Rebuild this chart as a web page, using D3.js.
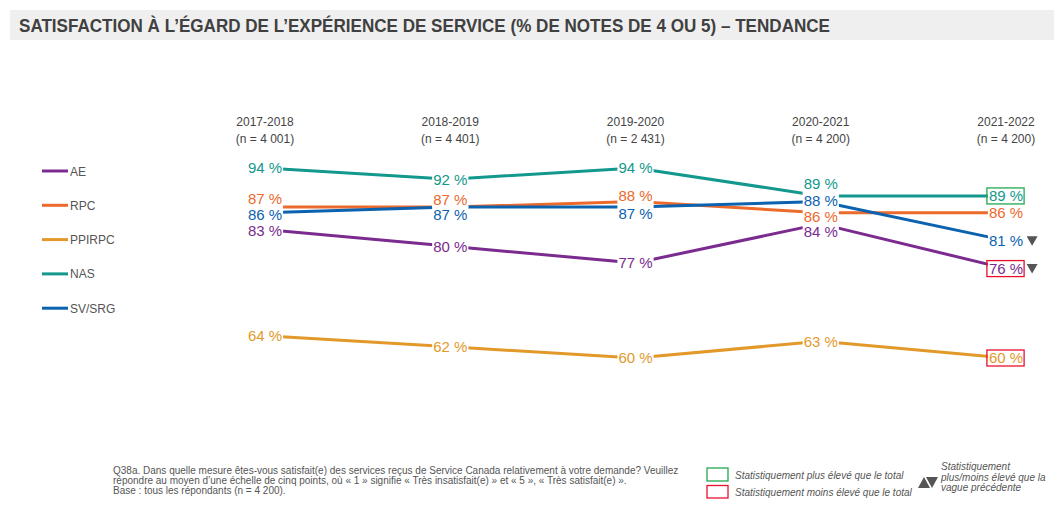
<!DOCTYPE html>
<html><head><meta charset="utf-8">
<script src="https://cdn.jsdelivr.net/npm/d3@7"></script>
<style>
body{margin:0;background:#fff}
svg{display:block;font-family:"Liberation Sans",Arial,Helvetica,sans-serif}
</style>
</head><body><svg id="c" width="1054" height="505"></svg>
<script>
// ---------- data ----------
const waves = ["2017-2018","2018-2019","2019-2020","2020-2021","2021-2022"];
const sampleSizes = ["(n = 4 001)","(n = 4 401)","(n = 2 431)","(n = 4 200)","(n = 4 200)"];
const seriesNames = ["AE","RPC","PPIRPC","NAS","SV/SRG"];
const AE     = [83, 80, 77, 84, 76];
const RPC    = [87, 87, 88, 86, 86];
const PPIRPC = [64, 62, 60, 63, 60];
const NAS    = [94, 92, 94, 89, 89];
const SVSRG  = [86, 87, 87, 88, 81];
// significance vs total: 1 = higher, -1 = lower, 0 = none
const sigTotalAE     = [0,0,0,0,-1];
const sigTotalRPC    = [0,0,0,0,0];
const sigTotalPPIRPC = [0,0,0,0,-1];
const sigTotalNAS    = [0,0,0,0,1];
const sigTotalSVSRG  = [0,0,0,0,0];
// significance vs previous wave: 1 = up, -1 = down
const sigWaveAE     = [0,0,0,0,-1];
const sigWaveRPC    = [0,0,0,0,0];
const sigWavePPIRPC = [0,0,0,0,0];
const sigWaveNAS    = [0,0,0,0,0];
const sigWaveSVSRG  = [0,0,0,0,-1];
const footnote = [
  "Q38a. Dans quelle mesure êtes-vous satisfait(e) des services reçus de Service Canada relativement à votre demande? Veuillez",
  "répondre au moyen d’une échelle de cinq points, où « 1 » signifie « Très insatisfait(e) » et « 5 », « Très satisfait(e) ».",
  "Base : tous les répondants (n = 4 200)."
];
const title = "SATISFACTION À L’ÉGARD DE L’EXPÉRIENCE DE SERVICE (% DE NOTES DE 4 OU 5) – TENDANCE";

// ---------- styles / layout ----------
const colors = {"AE":"#7b2b8f","RPC":"#ec6a2c","PPIRPC":"#e2992a","NAS":"#12988d","SV/SRG":"#0b62ae"};
const labelDy = {  // label vertical nudges to avoid overlap (px)
  "AE":[1,0,0,8,0],
  "RPC":[-9,-8,-6,4,0],
  "PPIRPC":[0,0,0,0,0],
  "NAS":[0,0,0,-12,0],
  "SV/SRG":[2,7,6,-1,0]
};
const values = {"AE":AE,"RPC":RPC,"PPIRPC":PPIRPC,"NAS":NAS,"SV/SRG":SVSRG};
const sigTotal = {"AE":sigTotalAE,"RPC":sigTotalRPC,"PPIRPC":sigTotalPPIRPC,"NAS":sigTotalNAS,"SV/SRG":sigTotalSVSRG};
const sigWave = {"AE":sigWaveAE,"RPC":sigWaveRPC,"PPIRPC":sigWavePPIRPC,"NAS":sigWaveNAS,"SV/SRG":sigWaveSVSRG};

const svg = d3.select("#c");

// title band
svg.append("rect").attr("x",10).attr("y",10).attr("width",1044).attr("height",30).attr("fill","#efefef");
svg.append("text").attr("x",19).attr("y",32).attr("font-size",17.5).attr("font-weight","bold")
  .attr("fill","#404040").attr("textLength",811).attr("lengthAdjust","spacingAndGlyphs").text(title);

const x = d3.scalePoint().domain(waves).range([265,1006]);
const y = d3.scaleLinear().domain([60,94]).range([358,168]);

// wave headers
const hdr = svg.append("g").attr("font-size",12).attr("fill","#444").attr("text-anchor","middle");
waves.forEach((w,i)=>{
  hdr.append("text").attr("x",x(w)).attr("y",126).text(w);
  hdr.append("text").attr("x",x(w)).attr("y",143).text(sampleSizes[i]);
});

// legend
const leg = svg.append("g");
seriesNames.forEach((s,i)=>{
  const ly = 171 + i*34.3;
  leg.append("line").attr("x1",42).attr("x2",68).attr("y1",ly).attr("y2",ly)
    .attr("stroke",colors[s]).attr("stroke-width",3);
  leg.append("text").attr("x",70).attr("y",ly+4.5).attr("font-size",12).attr("fill","#555").text(s);
});

// lines
const line = d3.line().x((d,i)=>x(waves[i])).y(d=>y(d));
seriesNames.forEach(s=>{
  svg.append("path").datum(values[s]).attr("d",line).attr("fill","none")
    .attr("stroke",colors[s]).attr("stroke-width",3).attr("stroke-linejoin","round");
});

// labels: backgrounds first, then texts, then markers
const bgLayer = svg.append("g");
const txtLayer = svg.append("g");
const mkLayer = svg.append("g");
seriesNames.forEach(s=>{
  values[s].forEach((v,i)=>{
    const cx = x(waves[i]), cy = y(v) + labelDy[s][i];
    const t = txtLayer.append("text").attr("x",cx).attr("y",cy).attr("dy","0.36em")
      .attr("text-anchor","middle").attr("font-size",15).attr("fill",colors[s]).text(v + " %");
    const b = t.node().getBBox();
    bgLayer.append("rect").attr("fill","#fff")
      .attr("x",b.x-1).attr("y",b.y).attr("width",b.width+2).attr("height",b.height);
    const st = sigTotal[s][i];
    if (st !== 0) {
      mkLayer.append("rect").attr("x",b.x-2).attr("y",cy-8).attr("width",b.width+3).attr("height",16)
        .attr("fill","none").attr("stroke", st>0 ? "#22a84f" : "#e8112d").attr("stroke-width",1.3);
    }
    const sw = sigWave[s][i];
    if (sw !== 0) {
      const tx = b.x + b.width + 9, ty = cy;
      const pts = sw<0 ? [[tx-5.5,ty-4.5],[tx+5.5,ty-4.5],[tx,ty+5]] : [[tx-5.5,ty+5],[tx+5.5,ty+5],[tx,ty-4.5]];
      mkLayer.append("path").attr("d","M"+pts.map(p=>p.join(",")).join("L")+"Z").attr("fill","#555");
    }
  });
});

// footnote
const fn = svg.append("g").attr("font-size",10).attr("fill","#555");
footnote.forEach((l,i)=>fn.append("text").attr("x",113).attr("y",474+i*10).text(l));

// bottom legend
const bl = svg.append("g").attr("font-size",10).attr("font-style","italic").attr("fill","#555");
bl.append("rect").attr("x",707).attr("y",468).attr("width",21).attr("height",13).attr("fill","none").attr("stroke","#22a84f").attr("stroke-width",1.3);
bl.append("rect").attr("x",707).attr("y",485.5).attr("width",21).attr("height",12.5).attr("fill","none").attr("stroke","#e8112d").attr("stroke-width",1.3);
bl.append("text").attr("x",735).attr("y",479).text("Statistiquement plus élevé que le total");
bl.append("text").attr("x",735).attr("y",496).text("Statistiquement moins élevé que le total");
bl.append("path").attr("d","M918,488L924,477L930,488Z").attr("fill","#555");
bl.append("path").attr("d","M926,477L938,477L932,488Z").attr("fill","#555");
["Statistiquement","plus/moins élevé que la","vague précédente"].forEach((l,i)=>
  bl.append("text").attr("x",941).attr("y",470+i*10.5).text(l));
</script>
</body></html>
